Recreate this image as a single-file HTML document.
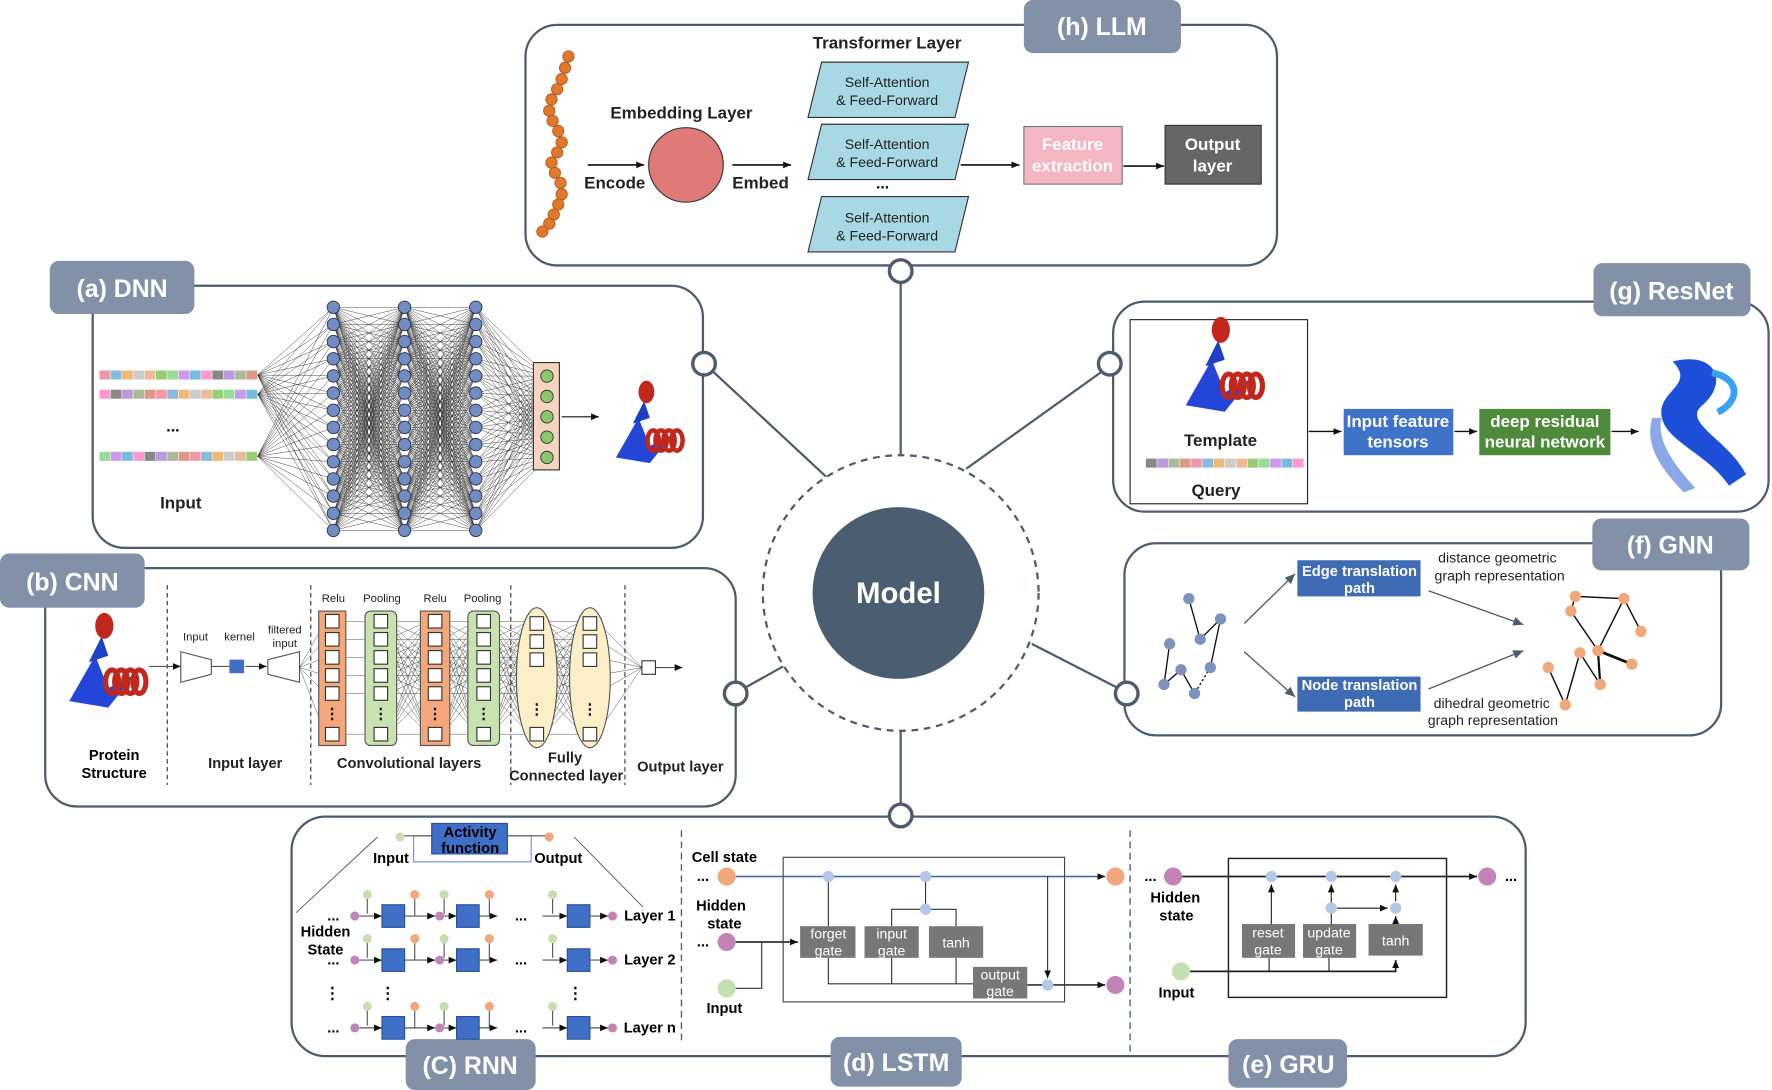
<!DOCTYPE html>
<html><head><meta charset="utf-8">
<style>
html,body{margin:0;padding:0;background:#fff;}
svg{display:block;}
text{font-family:"Liberation Sans",Arial,sans-serif;}
.b{font-weight:bold;}
</style></head>
<body>
<svg id="s" width="1772" height="1090" viewBox="0 0 1568 965" preserveAspectRatio="none" xmlns="http://www.w3.org/2000/svg">
<defs>
<marker id="ar" markerWidth="8" markerHeight="8" refX="7" refY="4" orient="auto" markerUnits="userSpaceOnUse"><path d="M0,1 L7,4 L0,7 z" fill="#111"/></marker>
<marker id="ag" markerWidth="10" markerHeight="10" refX="9" refY="5" orient="auto" markerUnits="userSpaceOnUse"><path d="M0,1 L9,5 L0,9 z" fill="#4e5c6e"/></marker>
</defs>
<g fill="#fff" stroke="#4e5c6e" stroke-width="2">
<rect x="465" y="22" width="665" height="213" rx="28"/>
<rect x="82" y="253" width="540" height="232" rx="28"/>
<rect x="40" y="503" width="611" height="211" rx="28"/>
<rect x="985" y="267" width="580" height="186" rx="28"/>
<rect x="995" y="481" width="528" height="170" rx="28"/>
<rect x="258" y="723" width="1092" height="212" rx="30"/>
</g>
<!-- connectors -->
<g stroke="#4e5c6e" stroke-width="2" fill="none">
<line x1="797" y1="250" x2="797" y2="403"/>
<line x1="631" y1="329" x2="731" y2="422"/>
<line x1="975" y1="329" x2="855" y2="415"/>
<line x1="659" y1="609" x2="693" y2="590"/>
<line x1="989" y1="609" x2="913" y2="570"/>
<line x1="797" y1="712" x2="797" y2="648"/>
<circle cx="797" cy="525" r="122" stroke-dasharray="6,5"/>
</g>
<g fill="#fff" stroke="#4e5c6e" stroke-width="3">
<circle cx="797" cy="240" r="10"/><circle cx="623" cy="322" r="10"/><circle cx="982" cy="322" r="10"/>
<circle cx="651" cy="614" r="10"/><circle cx="997" cy="614" r="10"/><circle cx="797" cy="722" r="10"/>
</g>
<circle cx="795" cy="525" r="76" fill="#4b5d70"/>
<text x="795" y="534" text-anchor="middle" class="b" font-size="26" fill="#fff">Model</text>
<!-- tabs -->
<g fill="#8291a8">
<rect x="906" y="0" width="139" height="47" rx="8"/>
<rect x="44" y="231" width="128" height="47" rx="8"/>
<rect x="0" y="490" width="128" height="48" rx="8"/>
<rect x="1410" y="233" width="139" height="47" rx="8"/>
<rect x="1409" y="459" width="139" height="46" rx="8"/>
<rect x="359" y="920" width="115" height="45" rx="8"/>
<rect x="735" y="918" width="116" height="44" rx="8"/>
<rect x="1087" y="920" width="105" height="43" rx="8"/>
</g>
<g fill="#fff" class="b" font-size="22" text-anchor="middle">
<text x="975" y="31">(h) LLM</text>
<text x="108" y="263">(a) DNN</text>
<text x="64" y="523">(b) CNN</text>
<text x="1479" y="265">(g) ResNet</text>
<text x="1478" y="490">(f) GNN</text>
<text x="416" y="951">(C) RNN</text>
<text x="793" y="948">(d) LSTM</text>
<text x="1140" y="950">(e) GRU</text>
</g>
<!-- LLM -->
<g id="chain" fill="#e0792e" stroke="#b45a1c" stroke-width="0.8"></g>
<text x="603" y="105" class="b" font-size="15" text-anchor="middle" fill="#222">Embedding Layer</text>
<circle cx="607" cy="146" r="33" fill="#e07a78" stroke="#333" stroke-width="1"/>
<g stroke="#111" stroke-width="1.5" marker-end="url(#ar)">
<line x1="520" y1="146" x2="570" y2="146"/><line x1="648" y1="146" x2="700" y2="146"/>
<line x1="850" y1="146" x2="902" y2="146"/><line x1="994" y1="147" x2="1030" y2="147"/>
</g>
<text x="544" y="167" class="b" font-size="15" text-anchor="middle" fill="#222">Encode</text>
<text x="673" y="167" class="b" font-size="15" text-anchor="middle" fill="#222">Embed</text>
<text x="785" y="43" class="b" font-size="15" text-anchor="middle" fill="#222">Transformer Layer</text>
<g fill="#a8d8e3" stroke="#333" stroke-width="1">
<polygon points="727,55 857,55 845,104 715,104"/>
<polygon points="727,110 857,110 845,159 715,159"/>
<polygon points="727,174 857,174 845,223 715,223"/>
</g>
<g font-size="12.5" text-anchor="middle" fill="#222">
<text x="785" y="77">Self-Attention</text><text x="785" y="93">&amp; Feed-Forward</text>
<text x="785" y="132">Self-Attention</text><text x="785" y="148">&amp; Feed-Forward</text>
<text x="785" y="197">Self-Attention</text><text x="785" y="213">&amp; Feed-Forward</text>
</g>
<text x="781" y="167" class="b" font-size="14" text-anchor="middle">...</text>
<rect x="906" y="112" width="87" height="51" fill="#f4b6c2" stroke="#777"/>
<text x="949" y="133" class="b" font-size="15" text-anchor="middle" fill="#fff">Feature</text>
<text x="949" y="152" class="b" font-size="15" text-anchor="middle" fill="#fff">extraction</text>
<rect x="1031" y="111" width="85" height="52" fill="#666" stroke="#333"/>
<text x="1073" y="133" class="b" font-size="15" text-anchor="middle" fill="#fff">Output</text>
<text x="1073" y="152" class="b" font-size="15" text-anchor="middle" fill="#fff">layer</text>
<!-- DNN -->
<g id="seqs"></g>
<text x="153" y="382" class="b" font-size="14" text-anchor="middle">...</text>
<text x="160" y="450" class="b" font-size="15" text-anchor="middle" fill="#222">Input</text>
<g id="dnnl" stroke="#333" stroke-width="0.4"></g>
<rect x="472" y="321" width="23" height="95" fill="#f5d5c0" stroke="#333"/>
<g id="dnnn"></g>
<line x1="497" y1="369" x2="530" y2="369" stroke="#111" stroke-width="1" marker-end="url(#ar)"/>
<g id="prot1"></g>
<!-- CNN -->
<g stroke="#333" stroke-width="1" stroke-dasharray="4,3">
<line x1="148" y1="518" x2="148" y2="695"/><line x1="275" y1="518" x2="275" y2="695"/>
<line x1="452" y1="518" x2="452" y2="695"/><line x1="553" y1="518" x2="553" y2="695"/>
</g>
<g id="prot2"></g>
<text x="101" y="673" class="b" font-size="13" text-anchor="middle">Protein</text>
<text x="101" y="689" class="b" font-size="13" text-anchor="middle">Structure</text>
<g stroke="#555" stroke-width="1" fill="#fff">
<line x1="132" y1="590" x2="160" y2="590" marker-end="url(#ar)"/>
<polygon points="160,577 187,584 187,597 160,604"/>
<line x1="187" y1="590" x2="203" y2="590"/><line x1="217" y1="590" x2="236" y2="590" marker-end="url(#ar)"/>
<polygon points="237,584 265,577 265,604 237,597"/>
</g>
<rect x="203" y="584" width="13" height="12" fill="#3f6fc6"/>
<g font-size="10" text-anchor="middle" fill="#222">
<text x="173" y="567">Input</text><text x="212" y="567">kernel</text><text x="252" y="561">filtered</text><text x="252" y="573">input</text>
<text x="295" y="533">Relu</text><text x="338" y="533">Pooling</text><text x="385" y="533">Relu</text><text x="427" y="533">Pooling</text>
</g>
<g id="cnnl" stroke="#444" stroke-width="0.4"></g>
<g stroke="#555" stroke-width="1">
<rect x="282" y="541" width="24" height="119" fill="#f3a77a"/>
<rect x="323" y="541" width="28" height="119" rx="5" fill="#c8e3b0"/>
<rect x="372" y="541" width="26" height="119" fill="#f3a77a"/>
<rect x="414" y="541" width="28" height="119" rx="5" fill="#c8e3b0"/>
<ellipse cx="475" cy="600" rx="18" ry="62" fill="#fcefc8"/>
<ellipse cx="522" cy="600" rx="18" ry="62" fill="#fcefc8"/>
</g>
<g id="cnnn"></g>
<rect x="568" y="585" width="12" height="12" fill="#fff" stroke="#333"/>
<line x1="580" y1="591" x2="604" y2="591" stroke="#555" marker-end="url(#ar)"/>
<g class="b" font-size="13" text-anchor="middle" fill="#222">
<text x="217" y="680">Input layer</text><text x="362" y="680">Convolutional layers</text>
<text x="500" y="675">Fully</text><text x="501" y="691">Connected layer</text><text x="602" y="683">Output layer</text>
</g>
<!-- ResNet -->
<rect x="1000" y="283" width="157" height="163" fill="#fff" stroke="#222" stroke-width="1"/>
<g id="prot3"></g>
<text x="1080" y="395" class="b" font-size="15" text-anchor="middle" fill="#222">Template</text>
<g id="seq2"></g>
<text x="1076" y="439" class="b" font-size="15" text-anchor="middle" fill="#222">Query</text>
<g stroke="#111" stroke-width="1.2" marker-end="url(#ar)">
<line x1="1158" y1="382" x2="1187" y2="382"/><line x1="1287" y1="382" x2="1307" y2="382"/><line x1="1426" y1="382" x2="1450" y2="382"/>
</g>
<rect x="1189" y="362" width="97" height="41" fill="#3f73c8"/>
<text x="1237" y="378" class="b" font-size="15" text-anchor="middle" fill="#fff">Input feature</text>
<text x="1237" y="396" class="b" font-size="15" text-anchor="middle" fill="#fff">tensors</text>
<rect x="1309" y="362" width="116" height="41" fill="#4e8a3a"/>
<text x="1367" y="378" class="b" font-size="15" text-anchor="middle" fill="#fff">deep residual</text>
<text x="1367" y="396" class="b" font-size="15" text-anchor="middle" fill="#fff">neural network</text>
<g id="prot4"></g>
<!-- GNN -->
<g stroke="#111" stroke-width="1.2">
<polyline points="1052,530 1062,566 1080,548 1071,591" fill="none"/>
<line x1="1071" y1="591" x2="1057" y2="614" stroke-dasharray="2,2"/>
<polyline points="1057,614 1045,593 1030,606 1035,570" fill="none"/>
</g>
<g fill="#7f91bd"><circle cx="1052" cy="530" r="5"/><circle cx="1062" cy="566" r="5"/><circle cx="1080" cy="548" r="5"/><circle cx="1071" cy="591" r="5"/><circle cx="1057" cy="614" r="5"/><circle cx="1045" cy="593" r="5"/><circle cx="1030" cy="606" r="5"/><circle cx="1035" cy="570" r="5"/></g>
<g stroke="#4e5c6e" stroke-width="1.2" marker-end="url(#ag)">
<line x1="1101" y1="552" x2="1146" y2="508"/><line x1="1101" y1="577" x2="1146" y2="617"/>
<line x1="1264" y1="523" x2="1348" y2="553"/><line x1="1264" y1="610" x2="1348" y2="576"/>
</g>
<rect x="1148" y="496" width="109" height="32" fill="#3f6ab4"/>
<text x="1203" y="510" class="b" font-size="13" text-anchor="middle" fill="#fff">Edge translation</text>
<text x="1203" y="525" class="b" font-size="13" text-anchor="middle" fill="#fff">path</text>
<rect x="1148" y="599" width="109" height="31" fill="#3f6ab4"/>
<text x="1203" y="611" class="b" font-size="13" text-anchor="middle" fill="#fff">Node translation</text>
<text x="1203" y="626" class="b" font-size="13" text-anchor="middle" fill="#fff">path</text>
<g font-size="12.5" text-anchor="middle" fill="#222">
<text x="1325" y="498">distance geometric</text><text x="1327" y="514">graph representation</text>
<text x="1320" y="627">dihedral geometric</text><text x="1321" y="642">graph representation</text>
</g>
<g stroke="#111" stroke-width="1.3" fill="none">
<polyline points="1394,528 1390,541 1414,576 1437,530 1394,528"/>
<line x1="1437" y1="530" x2="1452" y2="559"/>
<line x1="1414" y1="576" x2="1444" y2="588" stroke-width="2.5"/>
<line x1="1414" y1="576" x2="1416" y2="606" stroke-width="2"/>
<polyline points="1370,591 1385,624 1398,578 1416,606"/>
</g>
<g fill="#f0a779"><circle cx="1394" cy="528" r="5"/><circle cx="1437" cy="530" r="5"/><circle cx="1390" cy="541" r="5"/><circle cx="1452" cy="559" r="5"/><circle cx="1414" cy="576" r="5"/><circle cx="1444" cy="588" r="5"/><circle cx="1398" cy="578" r="5"/><circle cx="1416" cy="606" r="5"/><circle cx="1370" cy="591" r="5"/><circle cx="1385" cy="624" r="5"/></g>
<!-- bottom dashed separators -->
<g stroke="#4e5c6e" stroke-width="1.2" stroke-dasharray="6,4"><line x1="603" y1="735" x2="603" y2="925"/><line x1="1000" y1="735" x2="1000" y2="932"/></g>
<!-- RNN -->
<line x1="262" y1="808" x2="334" y2="741" stroke="#555" stroke-width="0.8"/>
<line x1="508" y1="741" x2="569" y2="803" stroke="#555" stroke-width="0.8"/>
<rect x="366" y="740" width="104" height="23" fill="none" stroke="#6a8fd8" stroke-width="1"/>
<line x1="354" y1="740" x2="382" y2="740" stroke="#555"/><line x1="449" y1="740" x2="486" y2="740" stroke="#555"/>
<circle cx="354" cy="741" r="4" fill="#c5e0b0"/><circle cx="486" cy="741" r="4" fill="#f0a779"/>
<rect x="382" y="729" width="67" height="27" fill="#3f6fc6" stroke="#2a4f9a"/>
<text x="416" y="741" class="b" font-size="13" text-anchor="middle">Activity</text>
<text x="416" y="755" class="b" font-size="13" text-anchor="middle">function</text>
<text x="346" y="764" class="b" font-size="13" text-anchor="middle">Input</text>
<text x="494" y="764" class="b" font-size="13" text-anchor="middle">Output</text>
<text x="288" y="829" class="b" font-size="13" text-anchor="middle">Hidden</text>
<text x="288" y="845" class="b" font-size="13" text-anchor="middle">State</text>
<g id="rnn"></g>
<g class="b" font-size="14" text-anchor="middle"><text x="294" y="884">⋮</text><text x="343" y="884">⋮</text><text x="509" y="884">⋮</text></g>
<!-- LSTM -->
<rect x="693" y="759" width="249" height="128" fill="none" stroke="#444"/>
<text x="641" y="763" class="b" font-size="13" text-anchor="middle">Cell state</text>
<text x="638" y="806" class="b" font-size="13" text-anchor="middle">Hidden</text>
<text x="641" y="822" class="b" font-size="13" text-anchor="middle">state</text>
<text x="641" y="897" class="b" font-size="13" text-anchor="middle">Input</text>
<text x="622" y="780" class="b" font-size="13" text-anchor="middle">...</text>
<text x="622" y="838" class="b" font-size="13" text-anchor="middle">...</text>
<g stroke="#333" stroke-width="1" fill="none">
<line x1="651" y1="776" x2="978" y2="776" stroke="#3b5ea8" stroke-width="1.3" marker-end="url(#ar)"/>
<line x1="651" y1="834" x2="706" y2="834" stroke-width="1.5" marker-end="url(#ar)"/>
<polyline points="651,875 674,875 674,834"/>
<line x1="733" y1="776" x2="733" y2="820"/>
<polyline points="733,848 733,871 861,871"/>
<line x1="789" y1="848" x2="789" y2="871"/><line x1="846" y1="848" x2="846" y2="871"/>
<line x1="819" y1="776" x2="819" y2="805"/>
<polyline points="789,820 789,805 846,805 846,820"/>
<line x1="927" y1="776" x2="927" y2="866" marker-end="url(#ar)"/>
<line x1="909" y1="872" x2="978" y2="872" stroke-width="1.5" marker-end="url(#ar)"/>
</g>
<g fill="#777"><rect x="708" y="820" width="49" height="28"/><rect x="765" y="820" width="48" height="28"/><rect x="822" y="820" width="48" height="28"/><rect x="861" y="856" width="48" height="28"/></g>
<g font-size="12.5" text-anchor="middle" fill="#fff">
<text x="733" y="831">forget</text><text x="733" y="846">gate</text><text x="789" y="831">input</text><text x="789" y="846">gate</text>
<text x="846" y="839">tanh</text><text x="885" y="867">output</text><text x="885" y="882">gate</text>
</g>
<g fill="#b3c7e8"><circle cx="733" cy="776" r="5"/><circle cx="819" cy="776" r="5"/><circle cx="819" cy="805" r="5"/><circle cx="927" cy="872" r="5"/></g>
<circle cx="643" cy="776" r="8" fill="#f0a779"/><circle cx="643" cy="834" r="8" fill="#c383b5"/><circle cx="643" cy="875" r="8" fill="#c5e0b0"/>
<circle cx="987" cy="776" r="8" fill="#f0a779"/><circle cx="987" cy="872" r="8" fill="#c383b5"/>
<!-- GRU -->
<rect x="1087" y="760" width="193" height="123" fill="none" stroke="#222" stroke-width="1.3"/>
<text x="1018" y="780" class="b" font-size="13" text-anchor="middle">...</text>
<text x="1337" y="780" class="b" font-size="13" text-anchor="middle">...</text>
<text x="1040" y="799" class="b" font-size="13" text-anchor="middle">Hidden</text>
<text x="1041" y="815" class="b" font-size="13" text-anchor="middle">state</text>
<text x="1041" y="883" class="b" font-size="13" text-anchor="middle">Input</text>
<g stroke="#222" stroke-width="1" fill="none">
<line x1="1046" y1="776" x2="1307" y2="776" stroke-width="1.5" marker-end="url(#ar)"/>
<line x1="1125" y1="818" x2="1125" y2="783" marker-end="url(#ar)"/>
<line x1="1178" y1="818" x2="1178" y2="783" marker-end="url(#ar)"/>
<line x1="1235" y1="818" x2="1235" y2="811" marker-end="url(#ar)"/>
<line x1="1235" y1="798" x2="1235" y2="783" marker-end="url(#ar)"/>
<line x1="1183" y1="804" x2="1228" y2="804" marker-end="url(#ar)"/>
<polyline points="1053,860 1235,860 1235,850" stroke-width="1.5" marker-end="url(#ar)"/>
<line x1="1123" y1="848" x2="1123" y2="860"/><line x1="1176" y1="848" x2="1176" y2="860"/>
</g>
<g fill="#777"><rect x="1099" y="818" width="47" height="30"/><rect x="1153" y="818" width="47" height="30"/><rect x="1211" y="818" width="48" height="28"/></g>
<g font-size="12.5" text-anchor="middle" fill="#fff">
<text x="1122" y="830">reset</text><text x="1122" y="845">gate</text><text x="1176" y="830">update</text><text x="1176" y="845">gate</text><text x="1235" y="837">tanh</text>
</g>
<g fill="#b3c7e8"><circle cx="1125" cy="776" r="5"/><circle cx="1178" cy="776" r="5"/><circle cx="1235" cy="776" r="5"/><circle cx="1178" cy="804" r="5"/><circle cx="1235" cy="804" r="5"/></g>
<circle cx="1038" cy="776" r="8" fill="#c383b5"/><circle cx="1316" cy="776" r="8" fill="#c383b5"/><circle cx="1045" cy="860" r="8" fill="#c5e0b0"/>
</svg>
<script>
var NS="http://www.w3.org/2000/svg";
function el(p,t,a){var e=document.createElementNS(NS,t);for(var k in a)e.setAttribute(k,a[k]);document.getElementById(p).appendChild(e);return e;}
// chain
var pts=[[503,50],[500,60],[497,70],[493,79],[488,88],[486,98],[489,107],[494,116],[497,126],[493,135],[488,144],[491,153],[496,162],[497,172],[494,181],[490,190],[486,198],[480,205]];
pts.forEach(function(p){el("chain","circle",{cx:p[0],cy:p[1],r:5});});
// sequences
var cols=["#888","#d98","#eb7","#9c7","#7bd","#b9d","#e9a","#ccc","#9d9","#f9c","#ab9","#8bd","#eb9","#c9e"];
function seq(g,x,y,n,w,h){for(var i=0;i<n;i++){var c=el(g,"rect",{x:x+i*w,y:y,width:w-0.5,height:h,fill:cols[(i*5+y)%cols.length]});}}
seq("seqs",88,328,14,10,8);seq("seqs",88,345,14,10,8);seq("seqs",88,400,14,10,8);
seq("seq2",1014,406,14,10,8);
// DNN
var X=[295,358,421],N=14,y0=272,dy=15.2;
for(var l=0;l<2;l++)for(var i=0;i<N;i++)for(var j=0;j<N;j++)el("dnnl","line",{x1:X[l],y1:y0+i*dy,x2:X[l+1],y2:y0+j*dy});
for(var i=0;i<N;i++)for(var j=0;j<5;j++)el("dnnl","line",{x1:421,y1:y0+i*dy,x2:484,y2:333+j*18});
[[228,332],[228,349],[228,404]].forEach(function(p){for(var i=0;i<N;i++)el("dnnl","line",{x1:p[0],y1:p[1],x2:295,y2:y0+i*dy});});
for(var l=0;l<3;l++)for(var i=0;i<N;i++)el("dnnn","circle",{cx:X[l],cy:y0+i*dy,r:5.5,fill:"#6f8cc4",stroke:"#334",'stroke-width':0.8});
for(var j=0;j<5;j++)el("dnnn","circle",{cx:484,cy:333+j*18,r:5.5,fill:"#8cc86a",stroke:"#334",'stroke-width':0.8});
// CNN
var cx=[294,337,385,428,475,522],cy=[550,566,582,598,614,650];
for(var l=0;l<5;l++)for(var i=0;i<6;i++)for(var j=0;j<6;j++){if(l==0&&i!=j)continue;el("cnnl","line",{x1:cx[l]+6,y1:cy[i],x2:cx[l+1]-6,y2:cy[j]});}
for(var i=0;i<6;i++){el("cnnl","line",{x1:265,y1:591,x2:288,y2:cy[i]});el("cnnl","line",{x1:528,y1:cy[i],x2:568,y2:591});}
var ccy=[[550,566,582,598,614,650],[550,566,582,598,614,650],[550,566,582,598,614,650],[550,566,582,598,614,650],[552,568,584,650],[552,568,584,650]];
for(var l=0;l<6;l++){ccy[l].forEach(function(y){el("cnnn","rect",{x:cx[l]-6,y:y-6,width:12,height:12,fill:"#fff",stroke:"#333"});});
var t=el("cnnn","text",{x:cx[l],y:l<4?636:632,'text-anchor':'middle','font-size':13,'font-weight':'bold'});t.textContent="⋮";}
// protein icons
function prot(g,x,y,s){
el(g,"path",{d:"M"+(x-25*s)+","+(y+25*s)+" L"+(x-5*s)+","+(y-10*s)+" L"+(x+5*s)+","+(y+15*s)+" L"+(x+25*s)+","+(y+5*s)+" L"+(x+5*s)+","+(y+30*s)+" Z",fill:"#2345d8"});
el(g,"path",{d:"M"+(x-10*s)+","+(y-5*s)+" l"+(10*s)+","+(-20*s)+" l"+(5*s)+","+(15*s)+" z",fill:"#1e40c8"});
el(g,"ellipse",{cx:x+2*s,cy:y-33*s,rx:7*s,ry:10*s,fill:"#c0281e"});
for(var k=0;k<4;k++)el(g,"ellipse",{cx:x+(8+k*7)*s,cy:y+10*s,rx:5*s,ry:9*s,fill:"none",stroke:"#c0281e",'stroke-width':4*s});
}
prot("prot1",570,380,1);prot("prot2",90,592,1.15);prot("prot3",1078,330,1.15);
var g4="prot4";el(g4,"path",{d:"M1480,320 C1520,310 1530,340 1505,360 C1490,375 1530,390 1545,420 L1530,430 C1510,400 1470,390 1470,365 C1470,345 1500,340 1480,320 Z",fill:"#1e4fd8"});
el(g4,"path",{d:"M1470,370 C1465,395 1490,420 1500,432 L1490,436 C1470,415 1455,395 1462,370 Z",fill:"#8aa8e8"});
el(g4,"path",{d:"M1515,330 C1540,335 1540,355 1520,365",fill:"none",stroke:"#3aa0f0",'stroke-width':6});
// RNN rows
[811,850,910].forEach(function(y,r){
function t(x,s){var e=el("rnn","text",{x:x,y:y+4,'text-anchor':'middle','font-size':13,'font-weight':'bold'});e.textContent=s;}
t(295,"...");t(461,"...");t(575,["Layer 1","Layer 2","Layer n"][r]);
[[318,338],[358,385],[393,404],[424,440],[480,502],[522,538]].forEach(function(s){el("rnn","line",{x1:s[0],y1:y,x2:s[1],y2:y,stroke:"#555",'stroke-width':1,'marker-end':'url(#ar)'});});
[314,389,542].forEach(function(x){el("rnn","circle",{cx:x,cy:y,r:4,fill:"#c383b5"});});
[[338],[404],[502]].forEach(function(x){el("rnn","rect",{x:x[0],y:y-10,width:20,height:20,fill:"#3f6fc6",stroke:"#2a4f9a"});});
[325,393,489].forEach(function(x){el("rnn","line",{x1:x,y1:y-16,x2:x,y2:y-2,stroke:"#555"});el("rnn","circle",{cx:x,cy:y-19,r:4,fill:"#c5e0b0"});});
[367,433].forEach(function(x){el("rnn","line",{x1:x,y1:y,x2:x,y2:y-15,stroke:"#555"});el("rnn","circle",{cx:x,cy:y-19,r:4,fill:"#f0a779"});});
});
</script>
</body></html>
